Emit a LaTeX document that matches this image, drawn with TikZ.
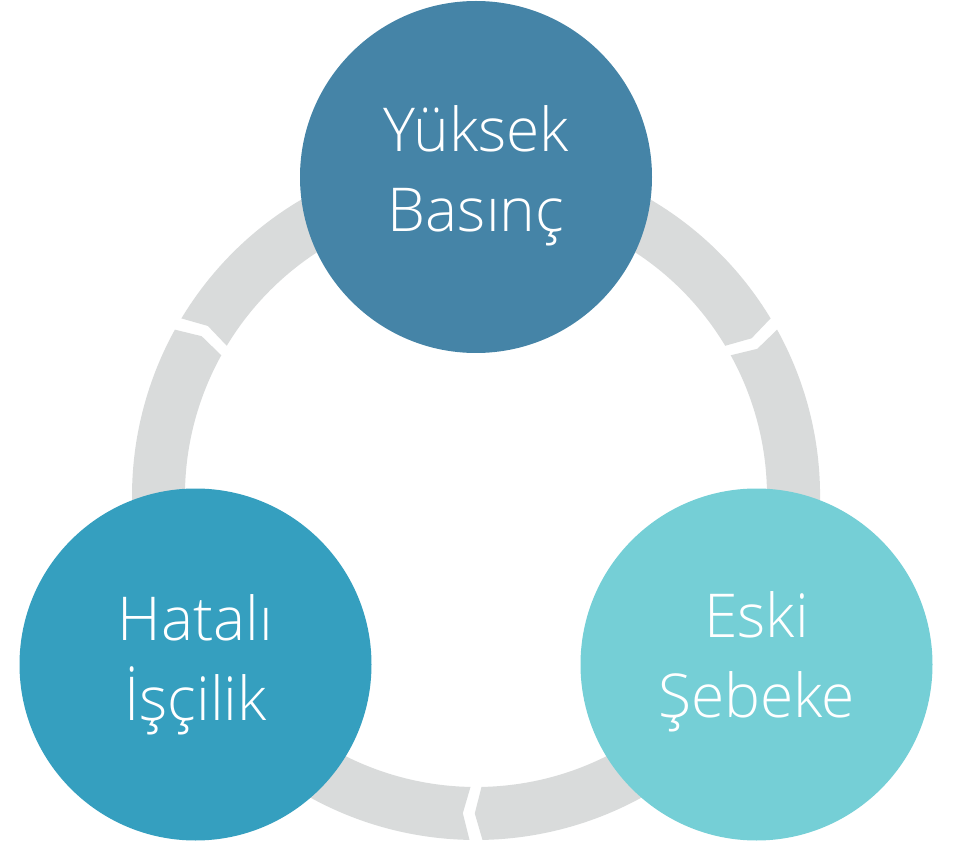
\documentclass[tikz,border=0pt]{standalone}
\usepackage{fontspec}
\setmainfont{Open Sans Light}
\usetikzlibrary{calc}
\begin{document}
\begin{tikzpicture}[x=1pt,y=1pt]
  \definecolor{ringgray}{RGB}{217,219,219}
  \definecolor{topblue}{RGB}{69,132,167}
  \definecolor{leftblue}{RGB}{53,159,191}
  \definecolor{rightteal}{RGB}{117,207,214}
  \tikzset{
    bubble/.style={circle, inner sep=0pt, minimum size=352pt, draw=none},
    lbl/.style={anchor=base, text=white, inner sep=0pt,
      font=\fontsize{60.5}{80}\selectfont}
  }
  \path[use as bounding box] (0,0) rectangle (954,-842);

  % ring of three arrow segments, running clockwise
  \def\ringOut{344}\def\ringIn{291}\def\ringMid{317.5}
  \def\gapHalf{1.08}\def\chevDepth{1.3}
  \begin{scope}[shift={(476,-496)}]
    \foreach \s in {270,150,30}{
      \pgfmathsetmacro{\angS}{\s-\gapHalf}
      \pgfmathsetmacro{\angE}{\s-120+\gapHalf}
      \pgfmathsetmacro{\angTip}{\angE-\chevDepth}
      \pgfmathsetmacro{\angNotch}{\angS-\chevDepth}
      \fill[ringgray] (\angS:\ringOut)
        arc[start angle=\angS, end angle=\angE, radius=\ringOut]
        -- (\angTip:\ringMid) -- (\angE:\ringIn)
        arc[start angle=\angE, end angle=\angS, radius=\ringIn]
        -- (\angNotch:\ringMid) -- cycle;
    }
  \end{scope}

  % the three causes
  \node[bubble, fill=topblue]   (top)   at (476,-177)   {};
  \node[bubble, fill=leftblue]  (left)  at (195.5,-664.5) {};
  \node[bubble, fill=rightteal] (right) at (756.5,-664.5) {};

  \node[lbl] (top1)   at ($(top)+(0,25)$)   {Yüksek};
  \node[lbl] (top2)   at ($(top)+(0,-55)$)  {Basınç};
  \node[lbl] (left1)  at ($(left)+(0,24)$)  {Hatalı};
  \node[lbl] (left2)  at ($(left)+(0,-56)$) {İşçilik};
  \node[lbl] (right1) at ($(right)+(0,27)$) {Eski};
  \node[lbl] (right2) at ($(right)+(0,-53)$) {Şebeke};
\end{tikzpicture}
\end{document}
